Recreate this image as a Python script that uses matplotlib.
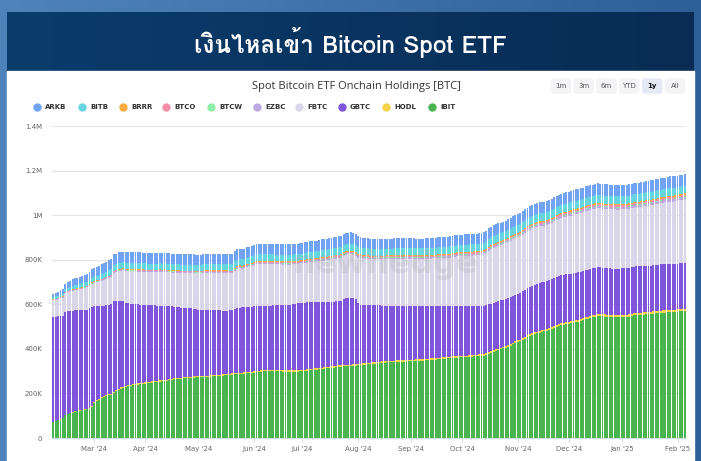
import matplotlib
matplotlib.use("Agg")
import matplotlib.pyplot as plt
import numpy as np
import pandas as pd
from matplotlib import font_manager
from matplotlib.ft2font import FT2Font
from matplotlib.lines import Line2D
from matplotlib.patches import Rectangle, FancyBboxPatch
from matplotlib.colors import LinearSegmentedColormap

# daily holdings, thousands of BTC (trading days from 7 Feb 2024)
IBIT = [
    72, 75, 79,
    82, 88, 103, 106, 110,
    113, 117, 119, 122, 124,
    126, 128, 130, 140, 157,
    165, 172, 178, 184, 190,
    192, 194, 200, 210, 215,
    222, 226, 229, 232, 235,
    236, 238, 240, 242, 243,
    244, 245, 247, 249, 250,
    252, 253, 255, 256, 257,
    259, 261, 263, 264, 265,
    266, 267, 268, 269, 270,
    271, 272, 272, 272, 273,
    273, 274, 275, 276, 277,
    278, 279, 280, 281, 282,
    283, 284, 285, 286, 287,
    288, 289, 290, 291, 292,
    293, 294, 295, 297, 299,
    300, 300, 301, 301, 300,
    300, 299, 298, 298, 297,
    297, 297, 298, 298, 299,
    299, 300, 302, 303, 305,
    306, 307, 309, 310, 311,
    312, 314, 315, 316, 318,
    319, 320, 321, 322, 323,
    323, 324, 325, 326, 327,
    328, 329, 331, 332, 333,
    334, 335, 336, 337, 338,
    339, 340, 341, 341, 342,
    342, 343, 343, 344, 344,
    345, 345, 346, 346, 347,
    347, 348, 349, 350, 351,
    352, 353, 354, 355, 356,
    357, 358, 359, 360, 361,
    362, 362, 363, 363, 364,
    365, 366, 367, 368, 369,
    370, 372, 377, 382, 386,
    390, 394, 398, 402, 406,
    410, 414, 420, 426, 430,
    434, 440, 446, 452, 458,
    462, 466, 469, 472, 475,
    478, 480, 483, 488, 493,
    497, 502, 505, 508, 510,
    511, 514, 518, 520, 522,
    524, 528, 532, 535, 538,
    541, 544, 547, 547, 546,
    545, 544, 543, 542, 542,
    541, 541, 542, 543, 543,
    545, 548, 550, 552, 552,
    553, 554, 555, 556, 557,
    558, 559, 561, 562, 563,
    563, 564, 565, 565, 566,
    567, 568, 569, 570,
]

HODL = [
    1.0, 1.2, 1.4,
    1.6, 1.8, 2.0, 2.2, 2.4,
    2.6, 2.8, 3.0, 3.0, 3.2,
    3.2, 3.4, 3.4, 3.6, 3.6,
    3.8, 3.8, 4.0, 4.0, 4.2,
    4.2, 4.4, 4.4, 4.6, 4.6,
    4.8, 4.8, 5.0, 5.0, 5.0,
    5.0, 5.0, 5.0, 5.0, 5.0,
    5.2, 5.2, 5.2, 5.2, 5.2,
    5.2, 5.2, 5.3, 5.3, 5.3,
    5.4, 5.4, 5.4, 5.4, 5.4,
    5.4, 5.5, 5.5, 5.5, 5.5,
    5.5, 5.5, 5.6, 5.6, 5.6,
    5.6, 5.6, 5.6, 5.7, 5.7,
    5.7, 5.7, 5.7, 5.8, 5.8,
    5.8, 5.8, 5.8, 5.8, 5.9,
    5.9, 5.9, 5.9, 5.9, 5.9,
    6.0, 6.0, 6.0, 6.0, 6.0,
    6.0, 6.0, 6.0, 6.0, 6.0,
    6.0, 6.0, 6.0, 6.0, 6.0,
    6.0, 6.0, 6.0, 6.1, 6.1,
    6.1, 6.1, 6.1, 6.2, 6.2,
    6.2, 6.2, 6.2, 6.3, 6.3,
    6.3, 6.3, 6.3, 6.4, 6.4,
    6.4, 6.4, 6.4, 6.5, 6.5,
    6.5, 6.5, 6.5, 6.5, 6.5,
    6.5, 6.5, 6.6, 6.6, 6.6,
    6.6, 6.6, 6.6, 6.6, 6.6,
    6.6, 6.6, 6.7, 6.7, 6.7,
    6.7, 6.7, 6.7, 6.7, 6.7,
    6.7, 6.7, 6.8, 6.8, 6.8,
    6.8, 6.8, 6.8, 6.8, 6.8,
    6.8, 6.9, 6.9, 6.9, 6.9,
    6.9, 6.9, 6.9, 7.0, 7.0,
    7.0, 7.0, 7.0, 7.0, 7.0,
    7.0, 7.1, 7.1, 7.1, 7.1,
    7.2, 7.2, 7.3, 7.3, 7.4,
    7.4, 7.5, 7.5, 7.6, 7.6,
    7.7, 7.7, 7.8, 7.8, 7.9,
    7.9, 8.0, 8.0, 8.1, 8.2,
    8.2, 8.3, 8.3, 8.4, 8.4,
    8.5, 8.5, 8.6, 8.6, 8.7,
    8.7, 8.8, 8.8, 8.9, 8.9,
    9.0, 9.0, 9.1, 9.1, 9.2,
    9.2, 9.2, 9.3, 9.3, 9.3,
    9.4, 9.4, 9.4, 9.5, 9.5,
    9.5, 9.5, 9.5, 9.5, 9.5,
    9.5, 9.6, 9.6, 9.6, 9.6,
    9.6, 9.7, 9.7, 9.7, 9.7,
    9.7, 9.8, 9.8, 9.8, 9.8,
    9.8, 9.9, 9.9, 9.9, 9.9,
    9.9, 10.0, 10.0, 10.0, 10.0,
    10.0, 10.0, 10.0, 10.0,
]

GBTC = [
    471, 468, 465,
    463, 458, 460, 460, 458,
    456, 453, 451, 449, 448,
    446, 445, 448, 444, 431,
    423, 417, 411, 406, 401,
    401, 401, 409, 401, 397,
    389, 383, 374, 368, 363,
    361, 358, 355, 352, 350,
    348, 346, 344, 341, 340,
    337, 336, 333, 332, 330,
    327, 324, 321, 319, 317,
    314, 312, 310, 308, 306,
    303, 300, 299, 298, 297,
    296, 295, 293, 292, 290,
    289, 288, 286, 285, 284,
    284, 284, 289, 292, 292,
    292, 291, 292, 292, 291,
    292, 292, 292, 291, 289,
    288, 288, 287, 288, 289,
    289, 290, 292, 292, 294,
    295, 297, 298, 300, 301,
    302, 301, 300, 300, 299,
    298, 297, 296, 295, 294,
    293, 291, 291, 290, 289,
    288, 288, 296, 298, 298,
    298, 296, 294, 274, 264,
    261, 260, 258, 256, 255,
    254, 253, 252, 250, 249,
    248, 247, 246, 246, 245,
    245, 244, 244, 243, 243,
    242, 242, 241, 241, 240,
    240, 239, 238, 237, 236,
    235, 234, 233, 232, 231,
    230, 229, 228, 227, 226,
    225, 225, 224, 224, 223,
    222, 221, 220, 219, 218,
    217, 216, 215, 214, 213,
    213, 212, 212, 211, 211,
    211, 211, 210, 210, 210,
    210, 210, 211, 212, 212,
    213, 214, 214, 215, 215,
    215, 215, 216, 216, 216,
    216, 216, 216, 215, 215,
    215, 214, 214, 213, 213,
    213, 212, 212, 211, 211,
    211, 210, 210, 209, 209,
    209, 209, 209, 209, 209,
    209, 209, 209, 208, 208,
    208, 208, 208, 208, 208,
    208, 208, 208, 207, 207,
    207, 207, 207, 207, 207,
    207, 207, 207, 206, 206,
    206, 206, 206, 206,
]

FBTC = [
    73, 76, 78,
    80, 82, 84, 86, 88,
    89, 90, 92, 93, 95,
    97, 99, 101, 103, 105,
    107, 110, 113, 116, 119,
    122, 125, 128, 130, 132,
    135, 138, 141, 143, 145,
    146, 147, 147, 148, 148,
    148, 148, 149, 149, 150,
    150, 151, 151, 152, 152,
    152, 152, 153, 153, 154,
    154, 155, 156, 157, 158,
    160, 161, 162, 163, 164,
    165, 166, 166, 167, 167,
    168, 168, 168, 169, 169,
    166, 165, 171, 175, 177,
    174, 176, 179, 181, 184,
    186, 187, 187, 187, 187,
    187, 187, 186, 185, 184,
    184, 184, 182, 182, 181,
    180, 179, 178, 177, 177,
    176, 178, 179, 180, 180,
    181, 182, 183, 184, 185,
    186, 188, 189, 191, 192,
    194, 195, 194, 195, 196,
    196, 195, 192, 203, 210,
    210, 208, 208, 207, 207,
    208, 208, 208, 208, 209,
    209, 209, 209, 210, 210,
    210, 210, 210, 211, 211,
    211, 210, 209, 209, 209,
    209, 210, 211, 211, 212,
    212, 213, 213, 214, 215,
    215, 216, 218, 220, 221,
    222, 222, 223, 223, 224,
    224, 225, 225, 226, 228,
    231, 236, 241, 244, 247,
    247, 248, 248, 249, 249,
    251, 253, 254, 252, 252,
    253, 255, 256, 257, 257,
    258, 257, 257, 255, 253,
    252, 252, 253, 253, 254,
    255, 256, 257, 258, 259,
    260, 261, 262, 263, 263,
    264, 264, 265, 265, 265,
    264, 265, 265, 265, 264,
    264, 264, 264, 265, 265,
    265, 265, 265, 265, 265,
    265, 265, 266, 266, 266,
    267, 268, 269, 270, 271,
    272, 273, 274, 275, 276,
    277, 278, 279, 280, 281,
    282, 283, 284, 285,
]

EZBC = [
    1.5, 1.5, 1.6,
    1.6, 1.7, 1.7, 1.8, 1.8,
    1.9, 1.9, 2.0, 2.0, 2.1,
    2.1, 2.2, 2.2, 2.3, 2.3,
    2.4, 2.4, 2.5, 2.5, 2.6,
    2.6, 2.7, 2.8, 2.8, 2.9,
    2.9, 3.0, 3.0, 3.0, 3.1,
    3.1, 3.1, 3.2, 3.2, 3.2,
    3.2, 3.3, 3.3, 3.3, 3.3,
    3.4, 3.4, 3.4, 3.4, 3.4,
    3.5, 3.5, 3.5, 3.5, 3.5,
    3.5, 3.6, 3.6, 3.6, 3.6,
    3.6, 3.6, 3.7, 3.7, 3.7,
    3.7, 3.7, 3.8, 3.8, 3.8,
    3.8, 3.8, 3.9, 3.9, 3.9,
    3.9, 3.9, 4.0, 4.0, 4.0,
    4.0, 4.0, 4.1, 4.1, 4.1,
    4.1, 4.2, 4.2, 4.2, 4.2,
    4.3, 4.3, 4.3, 4.3, 4.3,
    4.3, 4.4, 4.4, 4.4, 4.4,
    4.4, 4.5, 4.5, 4.5, 4.5,
    4.5, 4.6, 4.6, 4.6, 4.7,
    4.7, 4.7, 4.8, 4.8, 4.8,
    4.9, 4.9, 4.9, 5.0, 5.0,
    5.0, 5.0, 5.1, 5.1, 5.1,
    5.1, 5.2, 5.2, 5.2, 5.2,
    5.3, 5.3, 5.3, 5.3, 5.3,
    5.4, 5.4, 5.4, 5.4, 5.4,
    5.4, 5.5, 5.5, 5.5, 5.5,
    5.5, 5.5, 5.6, 5.6, 5.6,
    5.6, 5.6, 5.6, 5.7, 5.7,
    5.7, 5.7, 5.7, 5.8, 5.8,
    5.8, 5.8, 5.9, 5.9, 5.9,
    5.9, 6.0, 6.0, 6.0, 6.0,
    6.1, 6.1, 6.1, 6.2, 6.2,
    6.2, 6.3, 6.3, 6.3, 6.4,
    6.4, 6.5, 6.5, 6.6, 6.6,
    6.7, 6.7, 6.8, 6.8, 6.9,
    6.9, 7.0, 7.0, 7.1, 7.2,
    7.2, 7.3, 7.4, 7.4, 7.5,
    7.6, 7.6, 7.7, 7.8, 7.8,
    7.9, 8.0, 8.0, 8.1, 8.2,
    8.2, 8.3, 8.4, 8.4, 8.5,
    8.6, 8.6, 8.7, 8.8, 8.8,
    8.9, 9.0, 9.0, 9.1, 9.1,
    9.2, 9.2, 9.3, 9.3, 9.4,
    9.4, 9.4, 9.5, 9.5, 9.5,
    9.6, 9.6, 9.6, 9.7, 9.7,
    9.7, 9.8, 9.8, 9.8, 9.9,
    9.9, 9.9, 10.0, 10.0, 10.0,
    10.1, 10.1, 10.1, 10.2, 10.2,
    10.2, 10.3, 10.3, 10.3, 10.4,
    10.4, 10.4, 10.5, 10.5,
]

BTCW = [
    0.8, 0.8, 0.8,
    0.9, 0.9, 0.9, 0.9, 0.9,
    1.0, 1.0, 1.0, 1.0, 1.0,
    1.1, 1.1, 1.1, 1.1, 1.1,
    1.2, 1.2, 1.2, 1.2, 1.2,
    1.3, 1.3, 1.3, 1.3, 1.3,
    1.4, 1.4, 1.4, 1.4, 1.4,
    1.4, 1.4, 1.4, 1.4, 1.4,
    1.5, 1.5, 1.5, 1.5, 1.5,
    1.5, 1.5, 1.5, 1.5, 1.5,
    1.5, 1.5, 1.5, 1.5, 1.5,
    1.6, 1.6, 1.6, 1.6, 1.6,
    1.6, 1.6, 1.6, 1.6, 1.6,
    1.6, 1.6, 1.6, 1.6, 1.6,
    1.7, 1.7, 1.7, 1.7, 1.7,
    1.7, 1.7, 1.7, 1.7, 1.7,
    1.7, 1.7, 1.7, 1.7, 1.7,
    1.8, 1.8, 1.8, 1.8, 1.8,
    1.8, 1.8, 1.8, 1.8, 1.8,
    1.8, 1.8, 1.8, 1.8, 1.8,
    1.9, 1.9, 1.9, 1.9, 1.9,
    1.9, 1.9, 1.9, 1.9, 1.9,
    1.9, 1.9, 1.9, 1.9, 1.9,
    2.0, 2.0, 2.0, 2.0, 2.0,
    2.0, 2.0, 2.0, 2.0, 2.0,
    2.0, 2.0, 2.0, 2.0, 2.0,
    2.0, 2.0, 2.0, 2.0, 2.0,
    2.1, 2.1, 2.1, 2.1, 2.1,
    2.1, 2.1, 2.1, 2.1, 2.1,
    2.1, 2.1, 2.1, 2.1, 2.1,
    2.1, 2.1, 2.1, 2.1, 2.1,
    2.2, 2.2, 2.2, 2.2, 2.2,
    2.2, 2.2, 2.2, 2.2, 2.2,
    2.2, 2.2, 2.2, 2.2, 2.2,
    2.3, 2.3, 2.3, 2.3, 2.3,
    2.3, 2.3, 2.3, 2.3, 2.3,
    2.4, 2.4, 2.4, 2.4, 2.4,
    2.4, 2.4, 2.4, 2.4, 2.4,
    2.5, 2.5, 2.5, 2.5, 2.5,
    2.5, 2.5, 2.5, 2.5, 2.5,
    2.6, 2.6, 2.6, 2.6, 2.6,
    2.6, 2.6, 2.6, 2.6, 2.6,
    2.7, 2.7, 2.7, 2.7, 2.7,
    2.7, 2.7, 2.7, 2.7, 2.7,
    2.8, 2.8, 2.8, 2.8, 2.8,
    2.8, 2.8, 2.8, 2.8, 2.8,
    2.9, 2.9, 2.9, 2.9, 2.9,
    2.9, 2.9, 2.9, 2.9, 2.9,
    3.0, 3.0, 3.0, 3.0, 3.0,
    3.0, 3.0, 3.0, 3.0, 3.0,
    3.1, 3.1, 3.1, 3.1, 3.1,
    3.1, 3.1, 3.1, 3.1, 3.1,
    3.2, 3.2, 3.2, 3.2,
]

BTCO = [
    1.5, 1.5, 1.5,
    1.7, 1.7, 1.7, 1.7, 1.7,
    1.9, 1.9, 1.9, 1.9, 1.9,
    2.1, 2.1, 2.1, 2.1, 2.1,
    2.3, 2.3, 2.3, 2.3, 2.3,
    2.5, 2.5, 2.5, 2.5, 2.5,
    2.7, 2.7, 2.7, 2.7, 2.7,
    2.9, 2.9, 2.9, 2.9, 2.9,
    3.0, 3.0, 3.0, 3.0, 3.0,
    3.1, 3.1, 3.1, 3.1, 3.1,
    3.2, 3.2, 3.2, 3.2, 3.2,
    3.3, 3.3, 3.3, 3.3, 3.3,
    3.4, 3.4, 3.4, 3.4, 3.4,
    3.5, 3.5, 3.5, 3.5, 3.5,
    3.6, 3.6, 3.6, 3.6, 3.6,
    3.7, 3.7, 3.7, 3.7, 3.7,
    3.8, 3.8, 3.8, 3.8, 3.8,
    3.9, 3.9, 3.9, 3.9, 3.9,
    4.0, 4.0, 4.0, 4.0, 4.0,
    4.1, 4.1, 4.1, 4.1, 4.1,
    4.2, 4.2, 4.2, 4.2, 4.2,
    4.3, 4.3, 4.3, 4.3, 4.3,
    4.4, 4.4, 4.4, 4.4, 4.4,
    4.5, 4.5, 4.5, 4.5, 4.5,
    4.6, 4.6, 4.6, 4.6, 4.6,
    4.7, 4.7, 4.7, 4.7, 4.7,
    4.7, 4.7, 4.7, 4.7, 4.7,
    4.8, 4.8, 4.8, 4.8, 4.8,
    4.8, 4.8, 4.8, 4.8, 4.8,
    4.9, 4.9, 4.9, 4.9, 4.9,
    4.9, 4.9, 4.9, 4.9, 4.9,
    5.0, 5.0, 5.0, 5.0, 5.0,
    5.0, 5.0, 5.0, 5.0, 5.0,
    5.1, 5.1, 5.1, 5.1, 5.1,
    5.2, 5.2, 5.2, 5.2, 5.2,
    5.3, 5.3, 5.3, 5.3, 5.3,
    5.4, 5.4, 5.4, 5.4, 5.4,
    5.5, 5.5, 5.5, 5.5, 5.5,
    5.6, 5.6, 5.6, 5.6, 5.6,
    5.8, 5.8, 5.8, 5.8, 5.8,
    6.0, 6.0, 6.0, 6.0, 6.0,
    6.2, 6.2, 6.2, 6.2, 6.2,
    6.4, 6.4, 6.4, 6.4, 6.4,
    6.5, 6.5, 6.5, 6.5, 6.5,
    6.6, 6.6, 6.6, 6.6, 6.6,
    6.7, 6.7, 6.7, 6.7, 6.7,
    6.8, 6.8, 6.8, 6.8, 6.8,
    6.8, 6.8, 6.8, 6.8, 6.8,
    6.9, 6.9, 6.9, 6.9, 6.9,
    6.9, 6.9, 6.9, 6.9, 6.9,
    7.0, 7.0, 7.0, 7.0, 7.0,
    7.0, 7.0, 7.0, 7.0, 7.0,
    7.0, 7.0, 7.0, 7.0,
]

BRRR = [
    1.5, 1.5, 1.5,
    1.6, 1.6, 1.6, 1.6, 1.6,
    1.8, 1.8, 1.8, 1.8, 1.8,
    2.0, 2.0, 2.0, 2.0, 2.0,
    2.2, 2.2, 2.2, 2.2, 2.2,
    2.4, 2.4, 2.4, 2.4, 2.4,
    2.6, 2.6, 2.6, 2.6, 2.6,
    2.8, 2.8, 2.8, 2.8, 2.8,
    3.0, 3.0, 3.0, 3.0, 3.0,
    3.1, 3.1, 3.1, 3.1, 3.1,
    3.2, 3.2, 3.2, 3.2, 3.2,
    3.3, 3.3, 3.3, 3.3, 3.3,
    3.3, 3.3, 3.3, 3.3, 3.3,
    3.4, 3.4, 3.4, 3.4, 3.4,
    3.4, 3.4, 3.4, 3.4, 3.4,
    3.5, 3.5, 3.5, 3.5, 3.5,
    3.5, 3.5, 3.5, 3.5, 3.5,
    3.6, 3.6, 3.6, 3.6, 3.6,
    3.6, 3.6, 3.6, 3.6, 3.6,
    3.7, 3.7, 3.7, 3.7, 3.7,
    3.7, 3.7, 3.7, 3.7, 3.7,
    3.8, 3.8, 3.8, 3.8, 3.8,
    3.8, 3.8, 3.8, 3.8, 3.8,
    3.9, 3.9, 3.9, 3.9, 3.9,
    3.9, 3.9, 3.9, 3.9, 3.9,
    4.0, 4.0, 4.0, 4.0, 4.0,
    4.0, 4.0, 4.0, 4.0, 4.0,
    4.0, 4.0, 4.0, 4.0, 4.0,
    4.1, 4.1, 4.1, 4.1, 4.1,
    4.1, 4.1, 4.1, 4.1, 4.1,
    4.1, 4.1, 4.1, 4.1, 4.1,
    4.2, 4.2, 4.2, 4.2, 4.2,
    4.2, 4.2, 4.2, 4.2, 4.2,
    4.2, 4.2, 4.2, 4.2, 4.2,
    4.3, 4.3, 4.3, 4.3, 4.3,
    4.3, 4.3, 4.3, 4.3, 4.3,
    4.4, 4.4, 4.4, 4.4, 4.4,
    4.5, 4.5, 4.5, 4.5, 4.5,
    4.6, 4.6, 4.6, 4.6, 4.6,
    4.7, 4.7, 4.7, 4.7, 4.7,
    4.8, 4.8, 4.8, 4.8, 4.8,
    4.9, 4.9, 4.9, 4.9, 4.9,
    5.0, 5.0, 5.0, 5.0, 5.0,
    5.1, 5.1, 5.1, 5.1, 5.1,
    5.2, 5.2, 5.2, 5.2, 5.2,
    5.2, 5.2, 5.2, 5.2, 5.2,
    5.3, 5.3, 5.3, 5.3, 5.3,
    5.3, 5.3, 5.3, 5.3, 5.3,
    5.4, 5.4, 5.4, 5.4, 5.4,
    5.4, 5.4, 5.4, 5.4, 5.4,
    5.5, 5.5, 5.5, 5.5, 5.5,
    5.5, 5.5, 5.5, 5.5, 5.5,
    5.5, 5.5, 5.5, 5.5,
]

BITB = [
    9, 10, 10,
    11, 12, 13, 13, 14,
    15, 16, 16, 17, 18,
    19, 19, 20, 21, 21,
    22, 22, 23, 24, 24,
    25, 25, 26, 26, 27,
    27, 27, 28, 28, 28,
    28, 28, 28, 28, 28,
    28, 28, 27, 27, 27,
    27, 27, 27, 27, 27,
    27, 27, 27, 27, 27,
    27, 27, 27, 27, 27,
    27, 27, 27, 27, 27,
    27, 27, 27, 28, 28,
    28, 28, 28, 28, 28,
    28, 28, 29, 29, 29,
    29, 29, 29, 29, 30,
    30, 30, 30, 30, 30,
    30, 30, 30, 30, 30,
    30, 30, 30, 30, 30,
    30, 30, 30, 30, 30,
    30, 31, 31, 31, 31,
    31, 31, 32, 32, 32,
    32, 32, 32, 33, 33,
    33, 33, 33, 33, 33,
    33, 33, 33, 32, 32,
    32, 31, 31, 31, 31,
    31, 31, 31, 31, 31,
    31, 31, 31, 31, 31,
    31, 31, 31, 31, 31,
    31, 31, 31, 31, 31,
    31, 31, 31, 31, 31,
    31, 31, 32, 32, 32,
    32, 32, 32, 32, 32,
    32, 33, 33, 33, 33,
    33, 33, 33, 33, 33,
    33, 33, 34, 34, 34,
    34, 34, 34, 34, 34,
    34, 34, 35, 35, 35,
    35, 35, 35, 35, 35,
    35, 35, 36, 36, 36,
    36, 36, 36, 36, 36,
    36, 36, 36, 36, 36,
    36, 36, 36, 36, 36,
    36, 36, 36, 36, 36,
    36, 36, 36, 36, 36,
    36, 36, 36, 36, 36,
    36, 36, 36, 35, 35,
    35, 35, 35, 35, 35,
    35, 35, 35, 35, 35,
    35, 35, 35, 35, 35,
    35, 35, 35, 35, 35,
    34, 34, 34, 34,
]

ARKB = [
    16, 17, 18,
    20, 22, 24, 26, 28,
    30, 31, 32, 33, 34,
    35, 36, 37, 38, 39,
    40, 41, 42, 43, 44,
    45, 46, 47, 47, 48,
    48, 48, 48, 48, 48,
    48, 48, 48, 48, 48,
    48, 48, 48, 47, 47,
    47, 47, 47, 47, 47,
    47, 47, 47, 46, 46,
    46, 46, 46, 46, 46,
    46, 45, 45, 45, 45,
    45, 45, 45, 45, 45,
    45, 45, 45, 45, 46,
    46, 46, 46, 46, 46,
    46, 46, 47, 47, 47,
    47, 47, 47, 47, 47,
    47, 47, 47, 47, 47,
    47, 47, 47, 47, 47,
    47, 47, 47, 47, 47,
    47, 48, 48, 48, 48,
    48, 48, 48, 49, 49,
    49, 49, 49, 49, 50,
    50, 50, 50, 50, 50,
    50, 50, 49, 48, 47,
    46, 45, 45, 45, 45,
    45, 45, 44, 44, 44,
    44, 44, 44, 44, 44,
    44, 44, 44, 44, 44,
    44, 44, 44, 44, 44,
    44, 44, 44, 44, 44,
    44, 45, 45, 45, 45,
    45, 45, 46, 46, 46,
    46, 46, 47, 47, 47,
    47, 47, 47, 47, 47,
    47, 48, 48, 48, 48,
    48, 48, 48, 48, 48,
    48, 48, 48, 49, 49,
    49, 49, 49, 49, 49,
    49, 50, 50, 50, 50,
    50, 50, 50, 50, 50,
    50, 50, 51, 51, 51,
    51, 51, 51, 51, 51,
    51, 51, 51, 51, 51,
    51, 51, 51, 51, 51,
    51, 51, 51, 51, 51,
    51, 51, 51, 51, 51,
    50, 50, 50, 50, 50,
    50, 50, 51, 51, 51,
    51, 51, 51, 51, 51,
    51, 52, 52, 52, 52,
    52, 52, 52, 52,
]

# stacked bottom -> top
series = [
    ("IBIT", IBIT, "#4ab550"),
    ("HODL", HODL, "#f7d34a"),
    ("GBTC", GBTC, "#7f55dc"),
    ("FBTC", FBTC, "#dad6ea"),
    ("EZBC", EZBC, "#bba8de"),
    ("BTCW", BTCW, "#8eefa6"),
    ("BTCO", BTCO, "#f48fa8"),
    ("BRRR", BRRR, "#f9ab3d"),
    ("BITB", BITB, "#66d5df"),
    ("ARKB", ARKB, "#72a3f3"),
]
legend_order = ["ARKB", "BITB", "BRRR", "BTCO", "BTCW", "EZBC", "FBTC", "GBTC", "HODL", "IBIT"]
y_ticks = [0, 200, 400, 600, 800, 1000, 1200, 1400]
y_labels = ["0", "200K", "400K", "600K", "800K", "1M", "1.2M", "1.4M"]
ranges = ["1m", "3m", "6m", "YTD", "1y", "All"]

W, H = 701, 461


def fx(px):
    return px / W


def fy(py):
    return 1 - py / H


def thai_family():
    # header needs a face with Thai glyphs
    for f in font_manager.fontManager.ttflist:
        try:
            if 0x0E40 in FT2Font(f.fname).get_charmap():
                return f.name
        except Exception:
            pass
    return "DejaVu Sans"


fig = plt.figure(figsize=(W / 100, H / 100), dpi=100)

# page background, header strip and white card
bg = fig.add_axes([0, 0, 1, 1])
grad = np.linspace(0, 1, 256)[None, :]
bg.imshow(grad, cmap=LinearSegmentedColormap.from_list("bg", ["#4f84ba", "#2e5f96"]),
          aspect="auto", extent=[0, 1, 0, 1])
bg.imshow(grad, cmap=LinearSegmentedColormap.from_list("hd", ["#0b3c6c", "#082c54"]),
          aspect="auto", extent=[fx(7), fx(694), fy(71), fy(12)])
bg.add_patch(Rectangle((fx(7), 0), fx(694) - fx(7), fy(71), color="white"))
bg.set_xlim(0, 1)
bg.set_ylim(0, 1)
bg.axis("off")

fig.text(fx(350), fy(43), "เงินไหลเข้า Bitcoin Spot ETF", color="white", fontsize=17.5,
         fontweight="bold", ha="center", va="center", family=[thai_family(), "DejaVu Sans"])

fig.text(fx(356), fy(86), "Spot Bitcoin ETF Onchain Holdings [BTC]", color="#333333",
         fontsize=8, ha="center", va="center", family=["Open Sans", "DejaVu Sans"])

# range selector buttons
for i, lab in enumerate(ranges):
    cx = 561 + i * 22.8
    sel = lab == "1y"
    bg.add_patch(FancyBboxPatch((fx(cx - 9.5), fy(93)), fx(19), fy(79) - fy(93),
                                boxstyle="round,pad=0,rounding_size=0.004",
                                color="#e4e9f4" if sel else "#f4f4f6", transform=bg.transAxes))
    fig.text(fx(cx), fy(86), lab, fontsize=5, ha="center", va="center",
             color="#111111" if sel else "#555555", fontweight="bold" if sel else "normal")

# legend row
colors = {name: c for name, _, c in series}
leg_x = [37, 82, 123, 166, 211, 257, 299, 342, 386, 432]
for name, lx in zip(legend_order, leg_x):
    fig.add_artist(Line2D([fx(lx)], [fy(107)], marker="o", markersize=5, linestyle="none",
                          color=colors[name], transform=fig.transFigure))
    fig.text(fx(lx + 8), fy(107), name, fontsize=5, fontweight="bold", color="#333333",
             ha="left", va="center")

# chart
ax = fig.add_axes([fx(52), fy(438), fx(686) - fx(52), fy(126) - fy(438)])
n = len(IBIT)
x = np.arange(n)
dates = pd.bdate_range("2024-02-07", periods=n)
bottom = np.zeros(n)
for name, vals, c in series:
    vals = np.asarray(vals, dtype=float)
    ax.bar(x, vals, bottom=bottom, width=0.8, color=c, linewidth=0, zorder=2)
    bottom = bottom + vals

ax.set_xlim(-0.5, n - 0.5)
ax.set_ylim(0, 1400)
ax.set_yticks(y_ticks)
ax.set_yticklabels(y_labels)
ax.grid(axis="y", color="#e6e6e6", linewidth=0.8, zorder=0)
ax.tick_params(axis="y", length=0, pad=7, labelsize=5, labelcolor="#666666")

month_pos = [i for i in range(1, n) if dates[i].month != dates[i - 1].month]
ax.set_xticks(month_pos)
ax.set_xticklabels([dates[i].strftime("%b '%y") for i in month_pos])
ax.tick_params(axis="x", length=3, width=0.6, color="#ccd6eb", pad=2.5, labelsize=5,
               labelcolor="#666666")
for s in ["top", "right", "left"]:
    ax.spines[s].set_visible(False)
ax.spines["bottom"].set_color("#ccd6eb")
ax.spines["bottom"].set_linewidth(0.6)
ax.set_facecolor("none")

# watermark
fig.text(fx(385), fy(265), "newhedge", fontsize=23, color="#a0a0a0", alpha=0.22,
         ha="center", va="center", fontweight="bold")

fig.savefig("out.png", dpi=100)
